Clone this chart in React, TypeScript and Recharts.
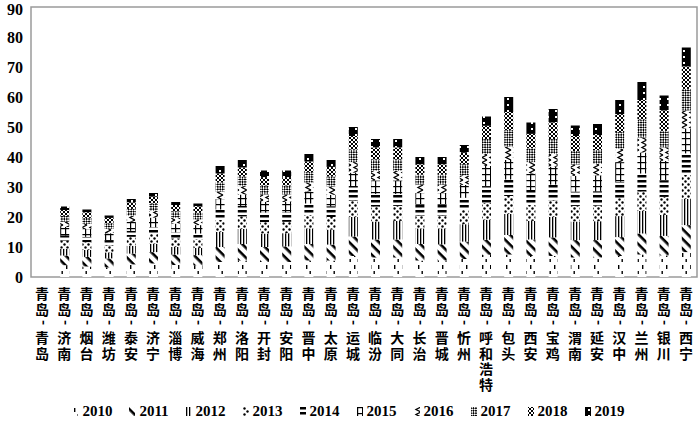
import { BarChart, Bar, XAxis, YAxis, ReferenceArea, Legend } from 'recharts'

const categories = [
  '青岛-青岛', '青岛-济南', '青岛-烟台', '青岛-潍坊', '青岛-泰安', '青岛-济宁', '青岛-淄博', '青岛-威海',
  '青岛-郑州', '青岛-洛阳', '青岛-开封', '青岛-安阳', '青岛-晋中', '青岛-太原', '青岛-运城', '青岛-临汾',
  '青岛-大同', '青岛-长治', '青岛-晋城', '青岛-忻州', '青岛-呼和浩特', '青岛-包头', '青岛-西安', '青岛-宝鸡',
  '青岛-渭南', '青岛-延安', '青岛-汉中', '青岛-兰州', '青岛-银川', '青岛-西宁',
]

const years = ['2010', '2011', '2012', '2013', '2014', '2015', '2016', '2017', '2018', '2019']

const v2010 = [0, 3.9, 3.5, 3.2, 4.2, 4.5, 4.0, 3.9, 5.0, 5.5, 5.0, 5.0, 5.5, 5.5, 7.0, 6.5, 6.5, 5.5, 5.5, 6.0, 7.4, 7.5, 7.0, 7.0, 6.5, 6.5, 7.0, 7.5, 7.2, 8.3]
const v2011 = [0, 3.3, 3.2, 3.0, 3.6, 3.8, 3.5, 3.4, 5.0, 5.5, 5.0, 5.2, 5.5, 5.3, 6.5, 6.0, 6.0, 5.5, 5.4, 5.8, 5.0, 6.5, 5.5, 6.2, 5.8, 5.8, 6.3, 7.0, 6.5, 9.0]
const v2012 = [0, 2.2, 2.3, 2.0, 2.6, 2.8, 2.5, 2.4, 5.0, 5.0, 4.5, 4.4, 5.2, 5.0, 6.5, 6.0, 6.2, 5.2, 5.3, 5.8, 6.7, 7.0, 6.2, 6.8, 6.2, 6.3, 7.0, 7.5, 7.0, 8.7]
const v2013 = [0, 2.8, 2.6, 2.4, 3.0, 3.3, 2.9, 2.9, 4.0, 4.2, 3.8, 3.8, 4.5, 4.2, 5.5, 5.0, 5.0, 4.3, 4.3, 4.8, 5.6, 6.0, 5.3, 5.6, 5.2, 5.2, 6.0, 6.5, 6.0, 8.0]
const v2014 = [0, 1.7, 1.8, 1.7, 2.0, 2.2, 2.0, 1.9, 3.5, 3.5, 3.2, 3.2, 3.8, 3.6, 4.5, 4.2, 4.0, 3.6, 3.6, 4.0, 5.6, 5.5, 5.0, 5.2, 4.8, 4.8, 5.5, 6.0, 5.5, 7.2]
const v2015 = [0, 2.8, 2.6, 2.3, 3.0, 3.2, 2.9, 2.8, 3.5, 3.8, 3.5, 3.4, 4.0, 3.8, 4.8, 4.5, 4.5, 3.9, 3.9, 4.3, 6.7, 6.5, 5.5, 6.0, 5.2, 5.3, 6.5, 7.0, 6.5, 8.3]
const v2016 = [0, 1.7, 1.7, 1.5, 2.0, 2.2, 1.9, 1.9, 2.5, 2.8, 2.5, 2.5, 3.0, 2.8, 3.5, 3.2, 3.2, 2.8, 2.8, 3.2, 4.0, 4.5, 3.8, 4.2, 3.8, 3.8, 4.5, 5.0, 4.5, 6.0]
const v2017 = [0, 2.0, 2.0, 1.8, 2.3, 2.5, 2.2, 2.2, 3.0, 3.2, 3.0, 3.0, 3.5, 3.3, 4.2, 3.8, 3.8, 3.3, 3.3, 3.7, 5.0, 5.5, 4.6, 5.0, 4.5, 4.6, 5.5, 6.0, 5.5, 7.2]
const v2018 = [0, 1.9, 1.9, 1.8, 2.2, 2.3, 2.1, 2.1, 3.0, 3.0, 2.8, 2.8, 3.5, 3.2, 4.5, 4.0, 4.0, 3.5, 3.5, 3.8, 4.4, 6.0, 4.8, 5.5, 5.0, 5.0, 6.0, 6.5, 6.8, 7.5]
const v2019 = [0, 1.2, 0.9, 0.8, 1.1, 1.2, 1.0, 1.0, 2.5, 2.5, 2.2, 2.2, 2.5, 2.3, 3.0, 2.8, 2.8, 2.4, 2.4, 2.6, 3.1, 5.0, 3.8, 4.5, 3.5, 3.7, 4.7, 6.0, 5.0, 6.3]

const yTicks = [0, 10, 20, 30, 40, 50, 60, 70, 80, 90]

const series = [v2010, v2011, v2012, v2013, v2014, v2015, v2016, v2017, v2018, v2019]

const data = categories.map((name, i) => {
  const row: Record<string, string | number> = { name }
  years.forEach((y, k) => {
    row[y] = series[k][i]
  })
  return row
})

const serif = '"Liberation Serif", "Times New Roman", serif'
const cjk = '"Noto Sans CJK SC", sans-serif'

function Patterns() {
  return (
    <defs>
      <pattern id="p2010" width={8} height={12} patternUnits="userSpaceOnUse">
        <rect width={8} height={12} fill="#fff" />
        <rect x={2} y={1} width={1.4} height={4} fill="#000" />
        <rect x={5.5} y={7} width={1.4} height={3} fill="#000" />
      </pattern>
      <pattern id="p2011" width={7} height={7} patternUnits="userSpaceOnUse" patternTransform="rotate(45)">
        <rect width={7} height={7} fill="#fff" />
        <rect width={7} height={2.6} fill="#000" />
      </pattern>
      <pattern id="p2012" width={3} height={4} patternUnits="userSpaceOnUse">
        <rect width={3} height={4} fill="#fff" />
        <rect width={1.3} height={4} fill="#000" />
      </pattern>
      <pattern id="p2013" width={6} height={6} patternUnits="userSpaceOnUse">
        <rect width={6} height={6} fill="#fff" />
        <circle cx={1.5} cy={1.5} r={1.2} fill="#000" />
        <circle cx={4.5} cy={4.5} r={1.2} fill="#000" />
      </pattern>
      <pattern id="p2014" width={8} height={5} patternUnits="userSpaceOnUse">
        <rect width={8} height={5} fill="#fff" />
        <rect width={8} height={2.5} fill="#000" />
      </pattern>
      <pattern id="p2015" width={5} height={6} patternUnits="userSpaceOnUse">
        <rect width={5} height={6} fill="#fff" />
        <rect width={5} height={1.2} fill="#000" />
        <rect width={1.2} height={6} fill="#000" />
      </pattern>
      <pattern id="p2016" width={8} height={5} patternUnits="userSpaceOnUse">
        <rect width={8} height={5} fill="#fff" />
        <path d="M7,0 L2,2.5 L7,5" stroke="#000" strokeWidth={1.3} fill="none" />
      </pattern>
      <pattern id="p2017" width={3.5} height={3.5} patternUnits="userSpaceOnUse" patternTransform="rotate(45)">
        <rect width={3.5} height={3.5} fill="#fff" />
        <rect width={1.75} height={1.75} fill="#000" />
        <rect x={1.75} y={1.75} width={1.75} height={1.75} fill="#000" />
      </pattern>
      <pattern id="p2018" width={4} height={4} patternUnits="userSpaceOnUse">
        <rect width={4} height={4} fill="#fff" />
        <path d="M0,0 L4,4 M4,0 L0,4" stroke="#000" strokeWidth={1} />
      </pattern>
      <pattern id="p2019" width={8} height={6} patternUnits="userSpaceOnUse">
        <rect width={8} height={6} fill="#000" />
        <rect x={3} y={2} width={2} height={2} fill="#fff" />
      </pattern>
    </defs>
  )
}

// vertical label: one text run written top to bottom, the hyphen turns upright
function CityTick({ x, y, payload }: any) {
  const [from, to] = String(payload.value).split('-')
  return (
    <text
      x={x}
      y={y + 10}
      fontFamily={cjk}
      fontWeight="bold"
      fontSize={14}
      fill="#000"
      letterSpacing={1.5}
      style={{ writingMode: 'vertical-rl' }}
    >
      {from}
      <tspan dx={2.5} dy={2}>-</tspan>
      <tspan dx={-2.5} dy={4}>{to}</tspan>
    </text>
  )
}

function YearLegend() {
  return (
    <div style={{ display: 'flex', justifyContent: 'center', gap: 17, height: 20, alignItems: 'center' }}>
      {years.map(y => (
        <div key={y} style={{ display: 'flex', alignItems: 'center', gap: 4 }}>
          <svg width={6} height={9}>
            <rect width={6} height={9} fill={`url(#p${y})`} />
          </svg>
          <span style={{ fontFamily: serif, fontWeight: 'bold', fontSize: 15, color: '#000' }}>{y}</span>
        </div>
      ))}
    </div>
  )
}

export default function App() {
  return (
    <div style={{ position: 'absolute', left: 0, top: 0, width: 700, height: 423, background: '#fff' }}>
      <BarChart width={700} height={423} data={data} margin={{ top: 7, right: 3, left: 0, bottom: 2 }} barSize={9}>
        <Patterns />
        <XAxis
          dataKey="name"
          interval={0}
          tick={<CityTick />}
          tickLine={false}
          axisLine={false}
          tickSize={0}
          tickMargin={0}
          height={124}
        />
        <YAxis
          domain={[0, 90]}
          ticks={yTicks}
          width={31}
          tickLine={false}
          axisLine={false}
          tick={{ fontFamily: serif, fontWeight: 'bold', fontSize: 16, fill: '#000' }}
        />
        <ReferenceArea y1={0} y2={90} fill="none" stroke="#9a9a9a" strokeWidth={1.5} />
        {years.map(y => (
          <Bar key={y} dataKey={y} stackId="a" fill={`url(#p${y})`} isAnimationActive={false} />
        ))}
        <Legend verticalAlign="bottom" content={<YearLegend />} />
      </BarChart>
    </div>
  )
}
